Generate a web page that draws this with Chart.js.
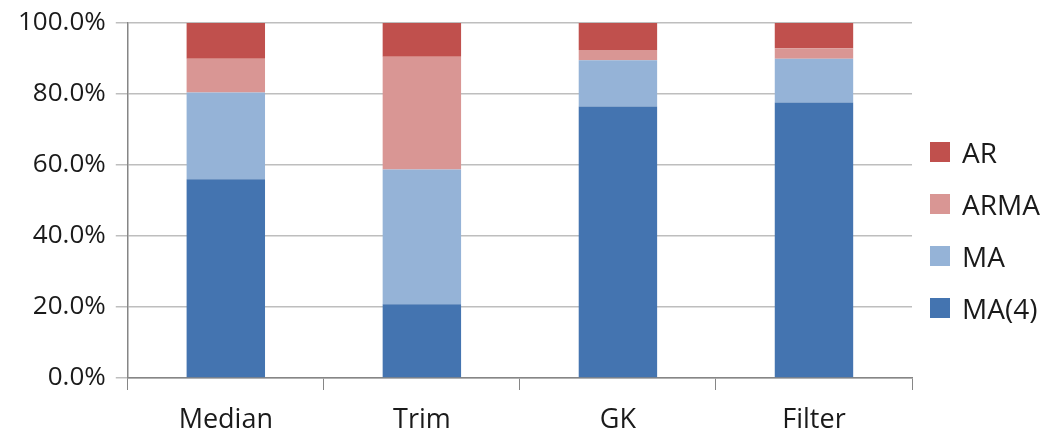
<!DOCTYPE html>
<html>
<head>
    <meta charset="UTF-8">
    <title>Model shares</title>
    <script src="https://cdn.jsdelivr.net/npm/chart.js"></script>
    <style>
        html, body { margin: 0; padding: 0; background: #fff; }
        #wrap { position: relative; width: 1047px; height: 432px; }
        #legend { position: absolute; left: 930px; top: 126px; font-family: 'Open Sans'; font-size: 28px; color: #1a1a1a; }
        .item { position: relative; height: 52px; line-height: 52px; padding-left: 32px; white-space: nowrap; }
        .box { position: absolute; left: 0; top: 16px; width: 20px; height: 20px; }
    </style>
</head>
<body>
<div id="wrap">
    <canvas id="myChart"></canvas>
    <div id="legend"></div>
</div>
<script>
    const categories = ['Median', 'Trim', 'GK', 'Filter'];
    const ma4 = [56.0, 20.8, 76.5, 77.6];
    const ma = [24.4, 37.9, 13.0, 12.3];
    const arma = [9.5, 31.8, 2.9, 3.0];
    const ar = [10.1, 9.5, 7.6, 7.1];
    const yTicks = [0, 20, 40, 60, 80, 100];

    const ctx = document.getElementById('myChart').getContext('2d');
    const myChart = new Chart(ctx, {
        type: 'bar',
        data: {
            labels: categories,
            datasets: [
                { label: 'MA(4)', data: ma4, backgroundColor: '#4474B0' },
                { label: 'MA', data: ma, backgroundColor: '#95B3D7' },
                { label: 'ARMA', data: arma, backgroundColor: '#D99694' },
                { label: 'AR', data: ar, backgroundColor: '#C0504D' }
            ]
        },
        options: {
            responsive: true,
            maintainAspectRatio: false,
            animation: false,
            layout: { padding: { top: 0, right: 135, bottom: 0, left: 8 } },
            datasets: { bar: { categoryPercentage: 1.0, barPercentage: 0.4 } },
            scales: {
                x: {
                    stacked: true,
                    afterFit: function (scale) { scale.height = 54; },
                    grid: { drawOnChartArea: false, tickLength: 12, color: '#868686' },
                    border: { color: '#868686', width: 1.5 },
                    ticks: { color: '#1a1a1a', font: { family: 'Open Sans', size: 27 }, padding: 14 }
                },
                y: {
                    stacked: true,
                    min: 0,
                    max: 100,
                    afterBuildTicks: function (axis) {
                        axis.ticks = yTicks.map(function (v) { return { value: v }; });
                    },
                    grid: { color: '#BEBEBE', lineWidth: 1.5, tickLength: 12 },
                    border: { color: '#868686', width: 1.5 },
                    ticks: {
                        color: '#1a1a1a',
                        font: { family: 'Open Sans', size: 26, lineHeight: 1.0 },
                        padding: 10,
                        callback: function (v) { return v.toFixed(1) + '%'; }
                    }
                }
            },
            plugins: {
                tooltip: { enabled: false },
                legend: { display: false }
            }
        }
    });

    // legend on the right, top entry is the last series
    var legendDiv = document.getElementById('legend');
    myChart.data.datasets.slice().reverse().forEach(function (ds) {
        var item = document.createElement('div');
        item.className = 'item';
        var box = document.createElement('span');
        box.className = 'box';
        box.style.background = ds.backgroundColor;
        item.appendChild(box);
        item.appendChild(document.createTextNode(ds.label));
        legendDiv.appendChild(item);
    });
</script>
</body>
</html>
